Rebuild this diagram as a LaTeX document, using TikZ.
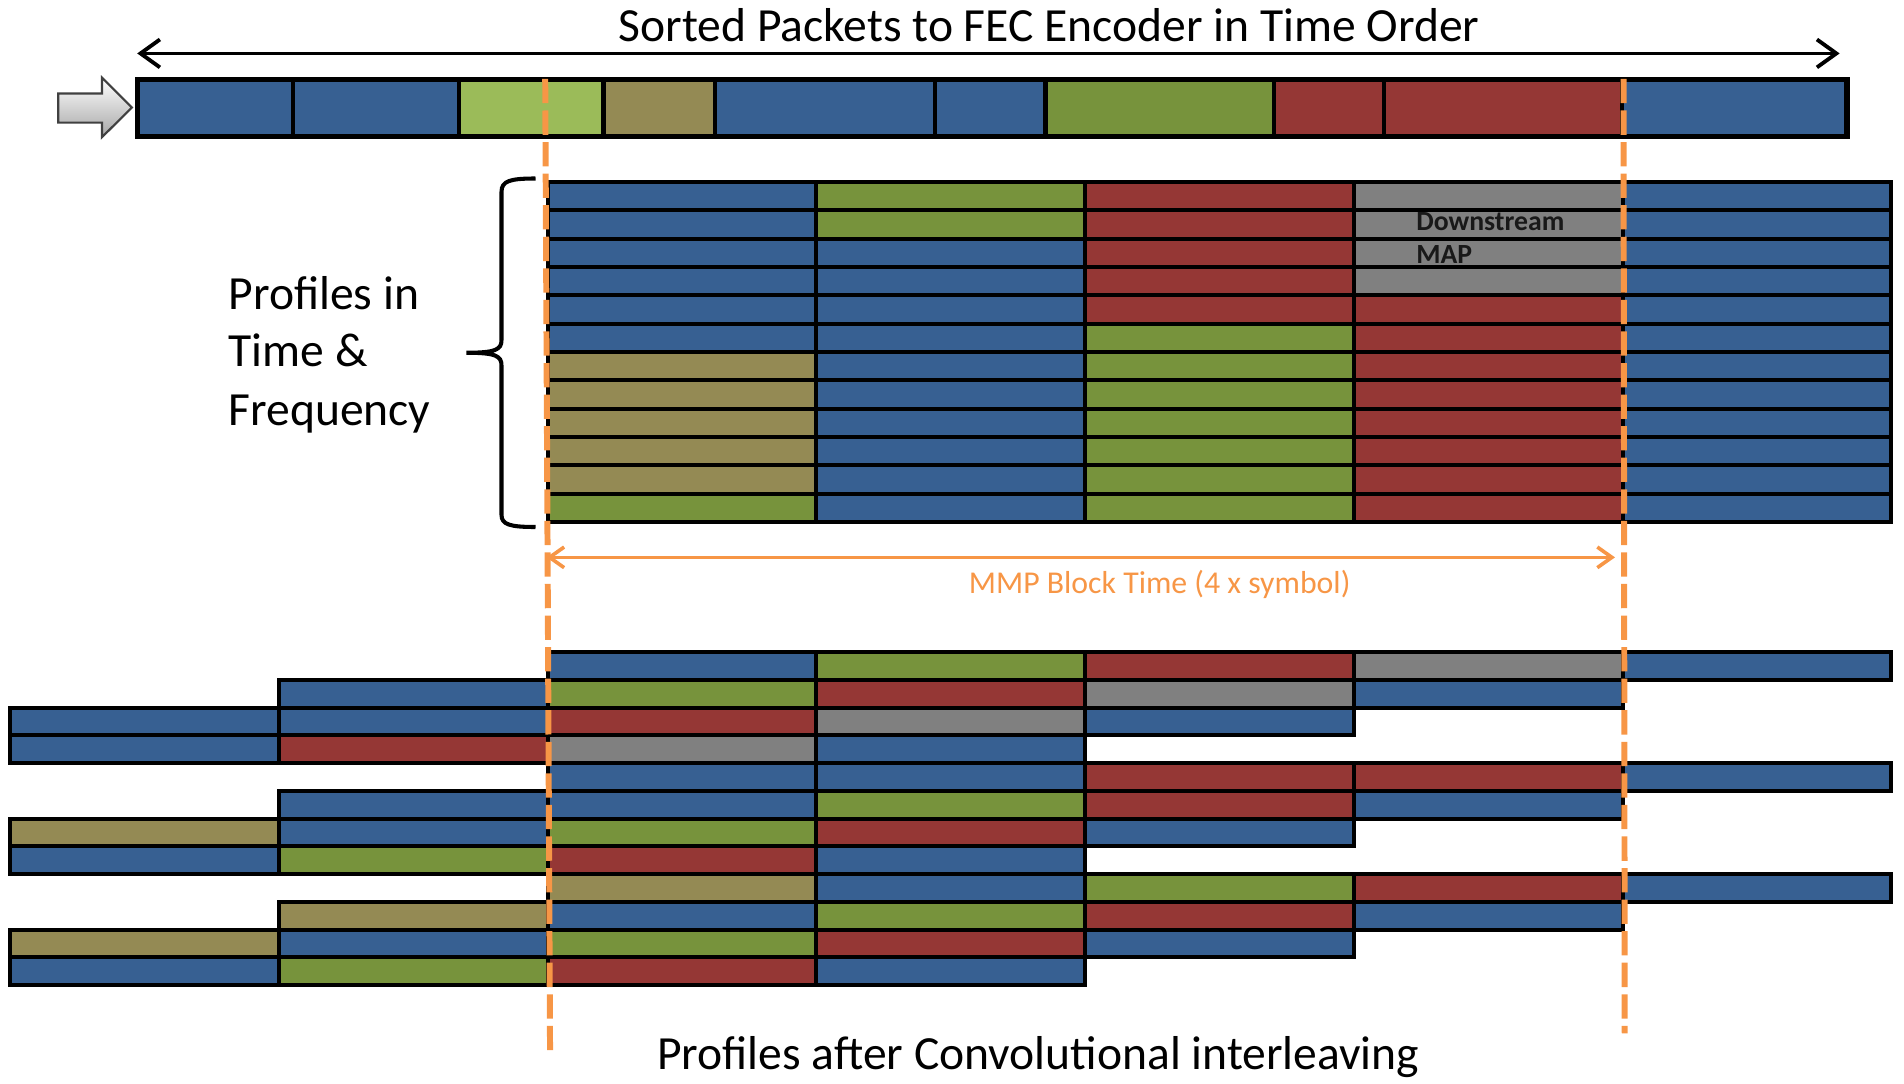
\documentclass[tikz,border=0pt]{standalone}
\usepackage{fontspec}
\setmainfont{Carlito}
\usetikzlibrary{arrows.meta}
\definecolor{cblue}{HTML}{376092}
\definecolor{cred}{HTML}{953735}
\definecolor{cgreen}{HTML}{77933C}
\definecolor{clgreen}{HTML}{9BBB59}
\definecolor{colive}{HTML}{948A54}
\definecolor{cgray}{HTML}{808080}
\definecolor{corange}{HTML}{F79646}
\begin{document}
\begin{tikzpicture}[x=0.02cm,y=-0.02cm,
  cell/.style={draw=black,line width=1.9pt},
  bigtext/.style={inner sep=0pt,font=\fontsize{22.3}{27}\selectfont},
  smalltext/.style={inner sep=0pt,font=\fontsize{14.9}{18}\selectfont},
  maptext/.style={inner sep=0pt,font=\fontsize{13}{15}\selectfont\bfseries,text=black!90},
  oline/.style={draw=corange,line width=2.8pt,dash pattern=on 0.4cm off 0.12cm},
  barb/.style={line width=1.8pt,{Straight Barb[length=0.32cm,width=0.46cm]}-{Straight Barb[length=0.32cm,width=0.46cm]}},
  obarb/.style={draw=corange,line width=1.7pt,{Straight Barb[length=0.24cm,width=0.34cm]}-{Straight Barb[length=0.24cm,width=0.34cm]}}
]
\useasboundingbox (0,0) rectangle (1568,892);

% title and arrow
\node[bigtext,anchor=base] (title) at (864,34.3) {Sorted Packets to FEC Encoder in Time Order};
\coordinate (tl) at (113,44);
\coordinate (tr) at (1515,44);
\draw[barb] (tl) -- (tr);

% input block arrow
\draw[draw=black!75,line width=1pt,top color=white,bottom color=black!35]
  (48,77) -- (84,77) -- (84,64) -- (108.6,88.5) -- (84,113) -- (84,101) -- (48,101) -- cycle;

% top bar
\foreach \a/\b/\c in {113/241/cblue,241/378/cblue,378/497/clgreen,497/589/colive,589/770/cblue,770/861/cblue,861/1049/cgreen,1049/1140/cred,1140/1336/cred,1336/1521/cblue}
  \draw[cell,fill=\c] (\a,65.5) rectangle (\b,112.5);
\draw[line width=2.5pt] (113,65.5) rectangle (1521,112.5);

\def\rowlist{{cblue,cgreen,cred,cgray,cblue},{cblue,cgreen,cred,cgray,cblue},{cblue,cblue,cred,cgray,cblue},{cblue,cblue,cred,cgray,cblue},{cblue,cblue,cred,cred,cblue},{cblue,cblue,cgreen,cred,cblue},{colive,cblue,cgreen,cred,cblue},{colive,cblue,cgreen,cred,cblue},{colive,cblue,cgreen,cred,cblue},{colive,cblue,cgreen,cred,cblue},{colive,cblue,cgreen,cred,cblue},{cgreen,cblue,cgreen,cred,cblue}}

% middle grid
\foreach \cols [count=\r from 0] in \rowlist {
  \foreach \c [count=\i from 0] in \cols {
    \draw[cell,fill=\c] ({451+\i*221.3},{150+\r*23.33}) rectangle ++(221.3,23.33);
  }
}

% downstream map label
\node[maptext,anchor=base west] (ds) at (1166,189.5) {Downstream};
\node[maptext,anchor=base west] (map) at (1166,217.4) {MAP};

% brace
\draw[line width=1.9pt] (441,147) .. controls (420,147) and (413,149) .. (413,158) -- (413,280)
  .. controls (413,288) and (408,290.5) .. (384,290.5)
  .. controls (408,290.5) and (413,293) .. (413,301) -- (413,424)
  .. controls (413,432) and (420,434) .. (441,434);

\node[bigtext,anchor=base west] (p1) at (188,254.7) {Profiles in};
\node[bigtext,anchor=base west] (p2) at (188,302) {Time \&};
\node[bigtext,anchor=base west] (p3) at (188,350) {Frequency};

% MMP arrow
\coordinate (ml) at (450,459);
\coordinate (mr) at (1330,459);
\draw[obarb] (ml) -- (mr);
\node[smalltext,text=corange,anchor=base] (mmp) at (955,489) {MMP Block Time (4 x symbol)};

% interleaved rows
\foreach \cols [count=\r from 0] in \rowlist {
  \pgfmathtruncatemacro\s{mod(\r,4)}
  \foreach \c [count=\i from 0] in \cols {
    \pgfmathtruncatemacro\col{\i-\s}
    \ifnum\col>-3
      \draw[cell,fill=\c] ({451+\col*221.3},{537+\r*22.85}) rectangle ++(221.3,22.85);
    \fi
  }
}

\node[bigtext,anchor=base] (bottom) at (855,881) {Profiles after Convolutional interleaving};

% orange dashed lines
\coordinate (o1a) at (449,65);
\coordinate (o1b) at (453,869);
\coordinate (o2a) at (1337,65);
\coordinate (o2b) at (1338,851);
\draw[oline] (o1a) -- (o1b);
\draw[oline] (o2a) -- (o2b);
\end{tikzpicture}
\end{document}
